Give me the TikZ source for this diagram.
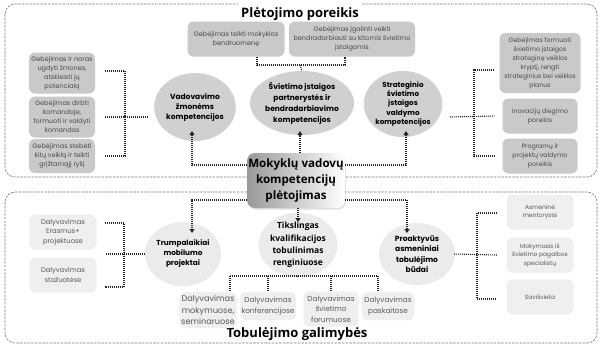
\documentclass[tikz,border=0pt]{standalone}
\usepackage{fontspec}
\setmainfont{Poppins}
\newfontfamily\osans{Open Sans}
\usetikzlibrary{shapes.geometric,arrows.meta,shadows}
\definecolor{boxgray}{HTML}{C9C9C9}
\definecolor{ellgray}{HTML}{D0D0D0}
\definecolor{lightbox}{HTML}{EFEFEF}
\definecolor{lightell}{HTML}{EBEBEB}
\definecolor{txtgray}{HTML}{4A4A4A}
\definecolor{framegray}{HTML}{777777}
\tikzset{
 frame/.style={draw=framegray, line width=0.6bp, dash pattern=on 2.5bp off 1.2bp, rounded corners=10bp},
 dots/.style={draw=black!85, line width=1.1bp, dash pattern=on 1bp off 1bp},
 arr/.style={-{Triangle[length=4bp,width=5bp]}},
 gbox/.style={rectangle, rounded corners=6bp, fill=boxgray, text=txtgray, align=center, inner sep=1bp, font=\fontsize{6.5bp}{9bp}\selectfont},
 lbox/.style={gbox, fill=lightbox, text=black!65},
 gell/.style={ellipse, fill=ellgray, inner sep=0pt, align=center, font=\bfseries\fontsize{7.5bp}{10.5bp}\selectfont},
 lell/.style={gell, fill=lightell},
 ttl/.style={font=\osans\bfseries\fontsize{13bp}{15bp}\selectfont},
}
\begin{document}
\begin{tikzpicture}[x=1bp,y=-1bp]
\useasboundingbox (0,0) rectangle (605,349);
\fill[white] (0,0) rectangle (605,349);
\draw[frame] (5,4) rectangle (597,177);
\draw[frame] (5,192) rectangle (597,343);
\node[ttl, fill=white, inner xsep=3bp, inner ysep=5bp] (t1) at (300,14) {Plėtojimo poreikis};
\node[ttl, inner sep=1bp] (t2) at (297,334) {Tobulėjimo galimybės};
% center
\node[rectangle, rounded corners=8bp, left color=black!40, right color=white, minimum width=98bp, minimum height=55bp, align=center, inner sep=1bp, font=\osans\bfseries\fontsize{11.6bp}{16bp}\selectfont, drop shadow={opacity=0.25, shadow xshift=1bp, shadow yshift=-1.5bp}] (c) at (296,180.5) {Mokyklų vadovų\\kompetencijų\\plėtojimas};
% top boxes
\node[gbox, minimum width=66bp, minimum height=41bp] (g1) at (62,73) {Gebėjimas ir noras\\ugdyti žmones,\\atskleisti jų\\potencialą};
\node[gbox, minimum width=66bp, minimum height=41bp] (g2) at (62,117) {Gebėjimas dirbti\\komandoje,\\formuoti ir valdyti\\komandas};
\node[gbox, minimum width=66bp, minimum height=34bp] (g3) at (62,156) {Gebėjimas stebėti\\kitų veiklą ir teikti\\grįžtamąjį ryšį};
\node[gbox, minimum width=97bp, minimum height=35bp] (g4) at (236,39) {Gebėjimas telkti mokyklos\\bendruomenę};
\node[gbox, minimum width=126bp, minimum height=35bp] (g5) at (352,39) {Gebėjimas įgalinti veikti\\bendradarbiauti su kitomis švietimo\\įstaigomis};
\node[gbox, minimum width=81bp, minimum height=60bp, font=\fontsize{6.3bp}{9bp}\selectfont] (g6) at (540,63) {Gebėjimas formuoti\\švietimo įstaigos\\strateginę veiklos\\kryptį, rengti\\strateginius bei veiklos\\planus};
\node[gbox, minimum width=75bp, minimum height=35bp, font=\fontsize{6.3bp}{9bp}\selectfont] (g7) at (540,116) {Inovacijų diegimo\\poreikis};
\node[gbox, minimum width=75bp, minimum height=35bp, font=\fontsize{6.3bp}{9bp}\selectfont] (g8) at (540,156) {Programų ir\\projektų valdymo\\poreikis};
% top ellipses
\node[gell, minimum width=78bp, minimum height=68bp, font=\bfseries\fontsize{7.5bp}{10bp}\selectfont] (vad) at (195,107) {Vadovavimo\\žmonėms\\kompetencijos};
\node[gell, minimum width=92bp, minimum height=64bp, font=\bfseries\fontsize{7.5bp}{11bp}\selectfont] (sv) at (302,103) {Švietimo įstaigos\\partnerystės ir\\bendradarbiavimo\\kompetencijos};
\node[gell, minimum width=72bp, minimum height=66bp, font=\bfseries\fontsize{7.2bp}{9.4bp}\selectfont] (st) at (403,104) {Strateginio\\švietimo\\įstaigos\\valdymo\\kompetencijos};
% bottom boxes
\node[lbox, minimum width=67bp, minimum height=35bp, font=\fontsize{6.8bp}{9.5bp}\selectfont] (b1) at (63,232) {Dalyvavimas\\Erasmus+\\projektuose};
\node[lbox, minimum width=67bp, minimum height=35bp, font=\fontsize{6.8bp}{9.5bp}\selectfont] (b2) at (63,275) {Dalyvavimas\\stažuotėse};
\node[lbox, minimum width=67bp, minimum height=35bp, font=\fontsize{6bp}{8.5bp}\selectfont] (r1) at (540,212) {Asmeninė\\mentorystė};
\node[lbox, minimum width=67bp, minimum height=35bp, font=\fontsize{6bp}{8.5bp}\selectfont] (r2) at (540,255) {Mokymasis iš\\švietimo pagalbos\\specialistų};
\node[lbox, minimum width=67bp, minimum height=35bp, font=\fontsize{6bp}{8.5bp}\selectfont] (r3) at (540,297) {Savišvieta};
\node[lbox, minimum width=57bp, minimum height=36bp, font=\fontsize{8.2bp}{11.3bp}\selectfont] (m1) at (208,310) {Dalyvavimas\\mokymuose,\\seminaruose};
\node[lbox, minimum width=56bp, minimum height=28bp, font=\fontsize{7.3bp}{10.5bp}\selectfont] (m2) at (268,306) {Dalyvavimas\\konferencijose};
\node[lbox, minimum width=55bp, minimum height=35bp, font=\fontsize{7.3bp}{10.5bp}\selectfont] (m3) at (331,309) {Dalyvavimas\\švietimo\\forumuose};
\node[lbox, minimum width=53bp, minimum height=28bp, font=\fontsize{7.3bp}{10.5bp}\selectfont] (m4) at (388,306) {Dalyvavimas\\paskaitose};
% bottom ellipses
\node[lell, minimum width=76bp, minimum height=64bp, font=\bfseries\fontsize{7.3bp}{10bp}\selectfont] (tr) at (183,254) {Trumpalaikiai\\mobilumo\\projektai};
\node[lell, minimum width=78bp, minimum height=54bp, font=\osans\bfseries\fontsize{8.5bp}{12.3bp}\selectfont] (tik) at (298,245) {Tikslingas\\kvalifikacijos\\tobulinimas\\renginiuose};
\node[lell, minimum width=76bp, minimum height=62bp, font=\bfseries\fontsize{7.5bp}{10.5bp}\selectfont] (pro) at (417,254) {Proaktyvūs\\asmeniniai\\tobulėjimo\\būdai};
% coordinates
\coordinate (tlv) at (125,116);
\coordinate (tlm) at (148,117);
\coordinate (jt) at (300,65);
\coordinate (trv) at (474,117);
\coordinate (trm) at (450,117);
\coordinate (blv) at (124,256);
\coordinate (blm) at (106,254);
\coordinate (brv) at (477,255);
\coordinate (jb) at (300,276);
\coordinate (jbl) at (230,276);
\coordinate (jbr) at (378,276);
\coordinate (aV) at (192,131);
\coordinate (aS) at (300,131);
\coordinate (aT) at (406,131);
\coordinate (bA) at (192,233);
\coordinate (bB) at (298,222);
\coordinate (bC) at (407,233);
% top connectors
\draw[dots] ([xshift=10bp,yshift=2bp]g1.east) -| (tlv) |- ([xshift=10bp]g3.east);
\draw[dots] ([xshift=10bp]g2.east) -- (tlm);
\draw[dots] ([xshift=21bp]g4.south) |- (jt) -| ([xshift=-7bp]g5.south);
\draw[dots] (jt) -- (sv.north);
\draw[dots] ([xshift=-5bp,yshift=-7bp]g6.west) -| (trv) |- ([xshift=-8bp]g8.west);
\draw[dots] (trm) -- ([xshift=-8bp]g7.west);
\draw[dots,arr] ([yshift=15.5bp]c.west) -| (aV);
\draw[dots,arr] (aS |- c.north) -- (aS);
\draw[dots,arr] ([yshift=15.5bp]c.east) -| (aT);
% bottom connectors
\draw[dots,arr] ([yshift=-19.5bp]c.west) -| (bA);
\draw[dots,arr] (bB |- c.south) -- (bB);
\draw[dots,arr] ([yshift=-19.5bp]c.east) -| (bC);
\draw[dots] ([xshift=8bp,yshift=9bp]b1.east) -| (blv) |- ([xshift=8bp,yshift=-12bp]b2.east);
\draw[dots] (blm) -- (tr.west);
\draw[dots] ([xshift=-9.5bp,yshift=-1bp]r1.west) -| (brv) |- ([xshift=-9.5bp,yshift=-2bp]r3.west);
\draw[dots] ([xshift=-1bp]pro.east) -- ([xshift=-9.5bp]r2.west);
\draw[dots] (jbl) -- (jbr);
\draw[dots] (jbl) -- (jbl |- m1.north);
\draw[dots] (jbr) -- (jbr |- m4.north);
\draw[dots] (m2.north |- jb) -- (m2.north);
\draw[dots] (m3.north |- jb) -- (m3.north);
\draw[dots] (tik.south) -- (tik.south |- jb);
\end{tikzpicture}
\end{document}
